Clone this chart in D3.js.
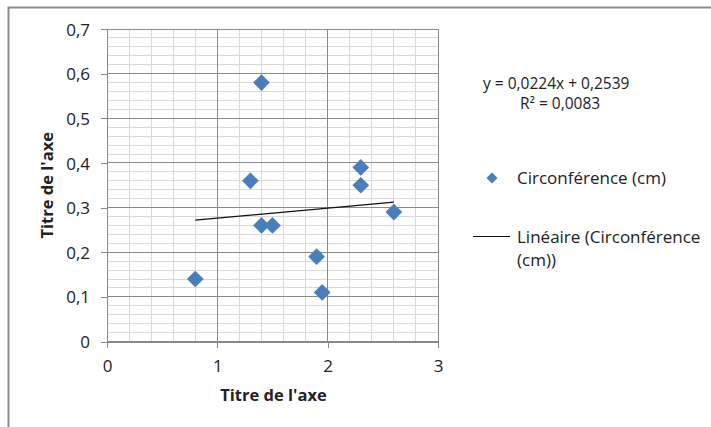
<!DOCTYPE html>
<html>
<head>
<meta charset="utf-8">
<script src="https://cdn.jsdelivr.net/npm/d3@7"></script>
<style>
  body { margin: 0; background: #fff; }
  svg text { font-family: "Open Sans", Lato, sans-serif; fill: #222; }
</style>
</head>
<body>
<div id="chart"></div>
<script>
// values
const xValues = [0.8, 1.3, 1.4, 1.4, 1.5, 1.9, 1.95, 2.3, 2.3, 2.6];
const yValues = [0.14, 0.36, 0.58, 0.26, 0.26, 0.19, 0.11, 0.39, 0.35, 0.29];
const xTicks = [0, 1, 2, 3];
const yTicks = [0, 0.1, 0.2, 0.3, 0.4, 0.5, 0.6, 0.7];
const trendCoef = [0.0224, 0.2539]; // slope, intercept
const equationLines = ['y = 0,0224x + 0,2539', 'R² = 0,0083'];
const seriesName = 'Circonférence (cm)';
const trendNameLines = ['Linéaire (Circonférence', '(cm))'];
const axisTitle = "Titre de l'axe";

const svgWidth = 711, svgHeight = 427;
const plot = { left: 107, right: 438, top: 29, bottom: 341.5 };

const svg = d3.select('#chart')
    .append('svg')
    .attr('width', svgWidth)
    .attr('height', svgHeight);

// chart area border (only top and left are visible)
svg.append('path')
    .attr('d', `M8.5,${svgHeight + 2}V7.5H${svgWidth + 2}`)
    .attr('fill', 'none')
    .attr('stroke', '#8c8c8c')
    .attr('stroke-width', 2);

const xScale = d3.scaleLinear().domain([0, 3]).range([plot.left, plot.right]);
const yScale = d3.scaleLinear().domain([0, 0.7]).range([plot.bottom, plot.top]);

const comma = d => String(d).replace('.', ',');

// minor grid
const minorX = d3.range(0, 3.0001, 0.2);
const minorY = d3.range(0, 0.7001, 0.02);
const grid = svg.append('g').attr('shape-rendering', 'crispEdges');
grid.selectAll('.mx')
    .data(minorX)
    .join('line')
    .attr('x1', d => xScale(d)).attr('x2', d => xScale(d))
    .attr('y1', plot.top).attr('y2', plot.bottom)
    .attr('stroke', '#d9d9d9');
grid.selectAll('.my')
    .data(minorY)
    .join('line')
    .attr('class', 'my')
    .attr('x1', plot.left).attr('x2', plot.right)
    .attr('y1', d => yScale(d)).attr('y2', d => yScale(d))
    .attr('stroke', '#d9d9d9');

// major grid
grid.selectAll('.gx')
    .data(xTicks)
    .join('line')
    .attr('class', 'gx')
    .attr('x1', d => xScale(d)).attr('x2', d => xScale(d))
    .attr('y1', plot.top).attr('y2', plot.bottom)
    .attr('stroke', '#8a8a8a');
grid.selectAll('.gy')
    .data(yTicks)
    .join('line')
    .attr('class', 'gy')
    .attr('x1', plot.left).attr('x2', plot.right)
    .attr('y1', d => yScale(d)).attr('y2', d => yScale(d))
    .attr('stroke', '#8a8a8a');

// axes
const xAxis = svg.append('g')
    .attr('transform', `translate(0, ${plot.bottom})`)
    .call(d3.axisBottom(xScale).tickValues(xTicks).tickSize(6).tickPadding(12).tickFormat(comma));
const yAxis = svg.append('g')
    .attr('transform', `translate(${plot.left}, 0)`)
    .call(d3.axisLeft(yScale).tickValues(yTicks).tickSize(6).tickPadding(11).tickFormat(comma));
[xAxis, yAxis].forEach(g => {
    g.attr('shape-rendering', 'crispEdges');
    g.select('.domain').attr('stroke', '#8a8a8a');
    g.selectAll('.tick line').attr('stroke', '#8a8a8a');
    g.selectAll('.tick text')
        .attr('font-family', '"Open Sans", sans-serif')
        .attr('font-size', 17)
        .attr('fill', '#222');
});
yAxis.selectAll('.tick text').attr('dy', '0.36em');

// trendline
const trendX = d3.extent(xValues);
svg.append('line')
    .attr('x1', xScale(trendX[0]))
    .attr('y1', yScale(trendCoef[0] * trendX[0] + trendCoef[1]))
    .attr('x2', xScale(trendX[1]))
    .attr('y2', yScale(trendCoef[0] * trendX[1] + trendCoef[1]))
    .attr('stroke', '#111')
    .attr('stroke-width', 1.2);

// points
const diamond = d3.symbol().type(d3.symbolSquare).size(140);
svg.selectAll('.pt')
    .data(xValues.map((x, i) => ({ x, y: yValues[i] })))
    .join('path')
    .attr('class', 'pt')
    .attr('d', diamond)
    .attr('transform', d => `translate(${xScale(d.x)}, ${yScale(d.y)}) rotate(45)`)
    .attr('fill', '#4a7ebb');

// axis titles
svg.append('text')
    .attr('x', (plot.left + plot.right) / 2 + 1)
    .attr('y', 401)
    .attr('text-anchor', 'middle')
    .attr('font-size', 16.5)
    .attr('font-weight', 'bold')
    .text(axisTitle);
svg.append('text')
    .attr('transform', `translate(53, ${(plot.top + plot.bottom) / 2}) rotate(-90)`)
    .attr('text-anchor', 'middle')
    .attr('font-size', 16.5)
    .attr('font-weight', 'bold')
    .text(axisTitle);

// trend equation
svg.append('text')
    .attr('x', 483).attr('y', 89)
    .attr('font-size', 15.5)
    .text(equationLines[0]);
svg.append('text')
    .attr('x', 520).attr('y', 109)
    .attr('font-size', 15.5)
    .text(equationLines[1]);

// legend
svg.append('path')
    .attr('d', d3.symbol().type(d3.symbolSquare).size(60))
    .attr('transform', 'translate(492, 178) rotate(45)')
    .attr('fill', '#4a7ebb');
svg.append('text')
    .attr('x', 517).attr('y', 184)
    .attr('font-size', 17)
    .text(seriesName);
svg.append('line')
    .attr('x1', 473).attr('x2', 510)
    .attr('y1', 236.5).attr('y2', 236.5)
    .attr('stroke', '#111');
trendNameLines.forEach((t, i) => {
    svg.append('text')
        .attr('x', 517).attr('y', 243 + i * 23)
        .attr('font-size', 17)
        .text(t);
});
</script>
</body>
</html>
